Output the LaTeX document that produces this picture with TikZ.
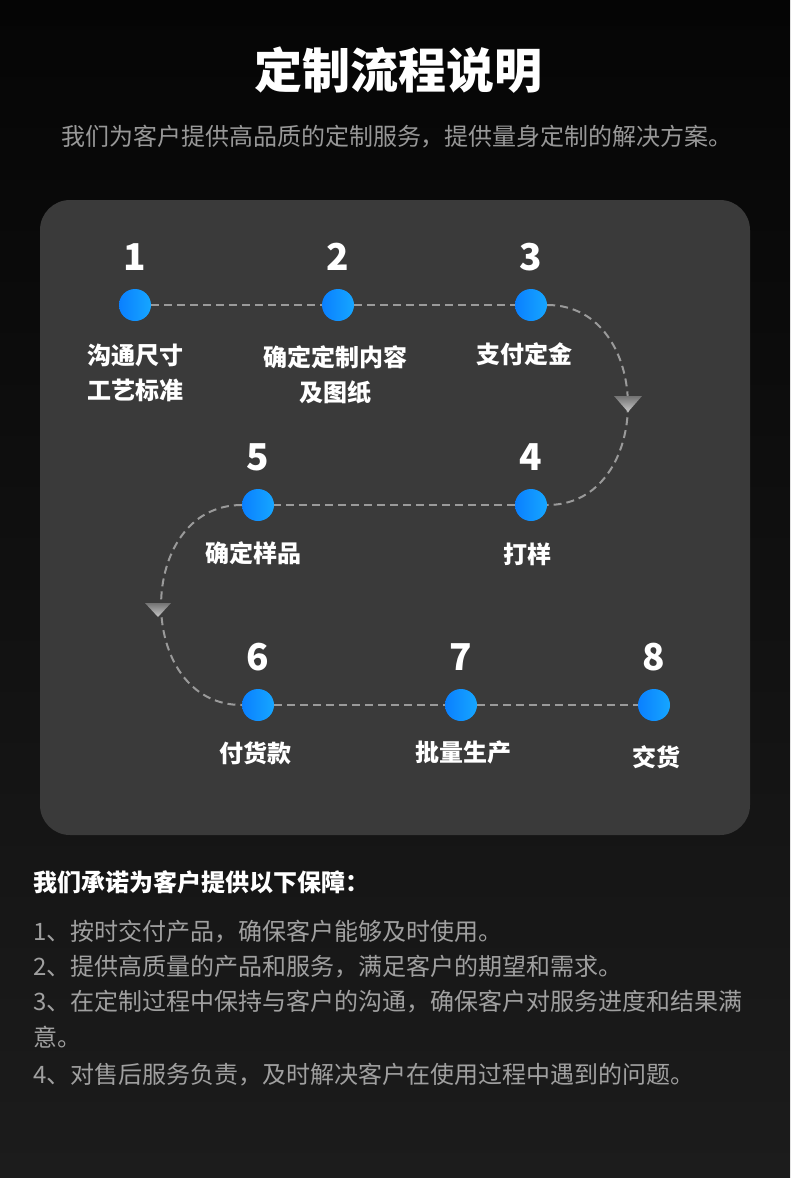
\documentclass[tikz,border=0pt]{standalone}
\usepackage{fontspec}
\setmainfont{Noto Sans CJK SC}
\usetikzlibrary{arrows.meta,positioning}
\definecolor{bgtop}{HTML}{050505}
\definecolor{bgbot}{HTML}{1C1C1C}
\definecolor{panelgray}{HTML}{3A3A3A}
\definecolor{linkgray}{HTML}{9A9A9A}
\definecolor{txtgray}{HTML}{A0A0A0}
\definecolor{dotA}{HTML}{0A80FF}
\definecolor{dotB}{HTML}{16A6FF}

\begin{document}
\begin{tikzpicture}[x=1pt,y=-1pt,
  dot/.style={circle,inner sep=0pt,minimum size=32pt,left color=dotA,right color=dotB},
  num/.style={text=white,font=\fontsize{37}{37}\selectfont\bfseries},
  lbl/.style={text=white,align=center,font=\fontsize{24}{35}\selectfont\bfseries},
  link/.style={draw=linkgray,line width=2pt,dash pattern=on 8pt off 5pt},
  tipfill/.style={top color=black!55,bottom color=white!78!black},
  body/.style={anchor=west,inner sep=0pt,text=txtgray,font=\fontsize{24}{35}\selectfont}]
\shade[top color=bgtop,bottom color=bgbot] (0,0) rectangle (790,1178);
\fill[panelgray,rounded corners=30pt] (40,200) rectangle (750,835);

\node[text=white,font=\fontsize{48}{48}\selectfont\bfseries] (title) at (398,70) {定制流程说明};
\node[text=txtgray!95!black,font=\fontsize{24}{24}\selectfont] (sub) at (397,137) {我们为客户提供高品质的定制服务，提供量身定制的解决方案。};

\foreach \i/\x/\y in {1/135/305,2/338/305,3/531/305,4/531/505,5/258/505,6/258/705,7/461/705,8/654/705}{
  \node[dot] (s\i) at (\x,\y) {};
  \node[num] (n\i) at (\x,\y-48) {\i};
}
\node[lbl] (t1) at (135,373) {沟通尺寸\\工艺标准};
\node[lbl] (t2) at (335,375) {确定定制内容\\及图纸};
\node[lbl] (t3) at (524,354) {支付定金};
\node[lbl] (t4) at (527,554) {打样};
\node[lbl] (t5) at (253,553) {确定样品};
\node[lbl] (t6) at (255,753) {付货款};
\node[lbl] (t7) at (463,752) {批量生产};
\node[lbl] (t8) at (656,757) {交货};

\draw[link] (s1) -- (s2);
\draw[link] (s2) -- (s3);
\draw[link] (s3) to[out=0,in=0,looseness=1.38] (s4);
\draw[link] (s4) -- (s5);
\draw[link] (s5) to[out=180,in=180,looseness=1.38] (s6);
\draw[link] (s6) -- (s7);
\draw[link] (s7) -- (s8);
\shade[tipfill] (628,404) +(-14,-8) -- +(14,-8) -- +(0,8) -- cycle;
\shade[tipfill] (158,610) +(-13,-7) -- +(13,-7) -- +(0,7) -- cycle;

\node[anchor=west,inner sep=0pt,text=white,font=\fontsize{24}{24}\selectfont\bfseries] (head) at (33,882) {我们承诺为客户提供以下保障：};
\node[body] (l1) at (33,932) {1、按时交付产品，确保客户能够及时使用。};
\node[body] (l2) at (33,967) {2、提供高质量的产品和服务，满足客户的期望和需求。};
\node[body] (l3) at (33,1002) {3、在定制过程中保持与客户的沟通，确保客户对服务进度和结果满};
\node[body] (l4) at (33,1037) {意。};
\node[body] (l5) at (33,1075) {4、对售后服务负责，及时解决客户在使用过程中遇到的问题。};
\end{tikzpicture}
\end{document}
